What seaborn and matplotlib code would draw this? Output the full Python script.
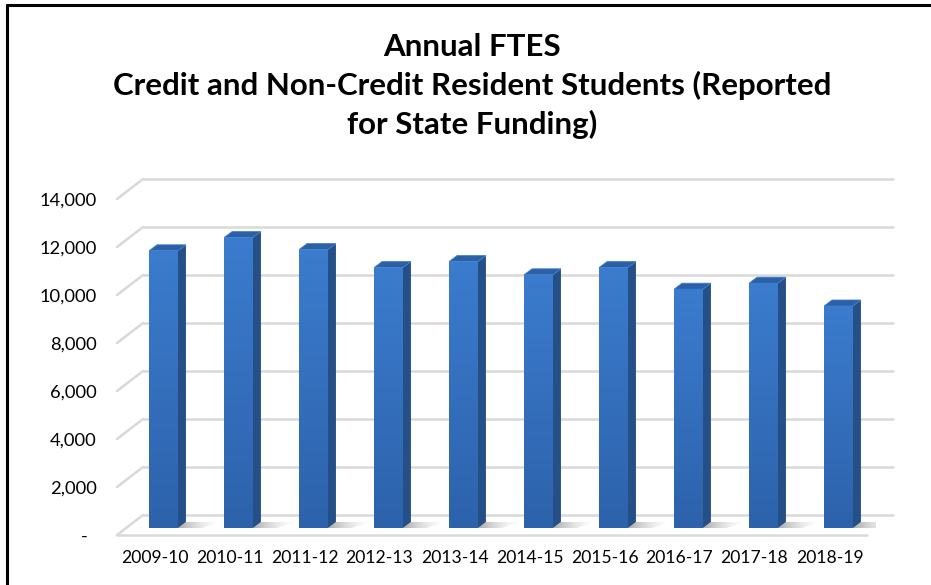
import numpy as np
import matplotlib
matplotlib.use("Agg")
import matplotlib.pyplot as plt
import matplotlib.transforms as mtransforms
from matplotlib.patches import Polygon
from matplotlib.lines import Line2D
import seaborn as sns
import pandas as pd

# Annual FTES by academic year
years = ["2009-10", "2010-11", "2011-12", "2012-13", "2013-14",
         "2014-15", "2015-16", "2016-17", "2017-18", "2018-19"]
ftes = [11550, 12100, 11600, 10850, 11100, 10550, 10850, 9950, 10200, 9250]
y_ticks = [0, 2000, 4000, 6000, 8000, 10000, 12000, 14000]
title_lines = ["Annual FTES",
               "Credit and Non-Credit Resident Students (Reported",
               "for State Funding)"]

sns.set_theme(style="white")
plt.rcParams["font.family"] = ["Lato", "DejaVu Sans"]

W, H = 931, 585
fig = plt.figure(figsize=(W / 100, H / 100), dpi=100)
fig.patch.set_facecolor("white")
ax = fig.add_axes([126 / W, 57 / H, 750 / W, 336 / H])

df = pd.DataFrame({"year": years, "ftes": ftes})
sns.barplot(data=df, x="year", y="ftes", color="#3573c3", saturation=1,
            width=0.385, ax=ax, zorder=4, linewidth=0)

ax.set_xlim(-0.5, len(years) - 0.5)
ax.set_ylim(0, 14000)
ax.set_xlabel("")
ax.set_ylabel("")
for s in ax.spines.values():
    s.set_visible(False)
ax.patch.set_alpha(0)


def px(dx, dy):
    """Convert a pixel offset into a data-space offset."""
    inv = ax.transData.inverted()
    a = inv.transform((0, 0))
    b = inv.transform((dx, dy))
    return b - a


# depth of the back wall, the bar bodies and the front floor edge (pixels)
bx, by = px(17, 13)
dx, dy = px(8, 6)
fx, fy = px(-9, -7)
x0, x1 = ax.get_xlim()

grid_c = "#d9d9d9"
for v in y_ticks:
    ax.add_line(Line2D([x0 + bx, x1 + bx], [v + by, v + by], color=grid_c,
                       lw=1.8, zorder=1, clip_on=False))
    ax.add_line(Line2D([x0 + fx, x0 + bx], [v + fy, v + by], color=grid_c,
                       lw=1.8, zorder=1, clip_on=False))
# front edge of the floor
ax.add_line(Line2D([x0 + fx, x1 + fx], [fy, fy], color=grid_c, lw=1.8,
                   zorder=1, clip_on=False))

# vertical gradient for the front faces
grad = np.linspace(0, 1, 256).reshape(-1, 1)
cmap_front = matplotlib.colors.LinearSegmentedColormap.from_list(
    "front", ["#2d62ab", "#3b7cce"])
cmap_shadow = matplotlib.colors.LinearSegmentedColormap.from_list(
    "shadow", [(0.55, 0.55, 0.55, 0.75), (0.85, 0.85, 0.85, 0.0)])

for bar in list(ax.patches):
    x = bar.get_x()
    w = bar.get_width()
    h = bar.get_height()
    img = ax.imshow(grad, extent=(x, x + w, 0, h), origin="lower",
                    cmap=cmap_front, aspect="auto", zorder=4.5,
                    interpolation="bilinear")
    img.set_clip_path(bar)
    # side face
    side = Polygon([(x + w, 0), (x + w + dx, dy), (x + w + dx, h + dy),
                    (x + w, h)], closed=True, facecolor="#254f87",
                   edgecolor="none", zorder=4, clip_on=False)
    ax.add_patch(side)
    # top face
    top = Polygon([(x, h), (x + w, h), (x + w + dx, h + dy), (x + dx, h + dy)],
                  closed=True, facecolor="#2b5fa6", edgecolor="#3f7fcf",
                  lw=0.6, zorder=4.6, clip_on=False)
    ax.add_patch(top)
    # soft shadow on the floor
    sdx, sdy = px(34, 0)
    shadow = Polygon([(x + w, 0), (x + w + dx, dy), (x + w + dx + sdx, dy),
                      (x + w + sdx * 0.7, 0)], closed=True, facecolor="none",
                     edgecolor="none", zorder=2, clip_on=False)
    ax.add_patch(shadow)
    shimg = ax.imshow(np.linspace(0, 1, 256).reshape(1, -1),
                      extent=(x + w, x + w + dx + sdx, 0, dy), origin="lower",
                      cmap=cmap_shadow, aspect="auto", zorder=2,
                      interpolation="bilinear")
    shimg.set_clip_path(shadow)

ax.set_xlim(x0, x1)
ax.set_ylim(0, 14000)

# tick labels sit on the front plane of the floor
shift = mtransforms.ScaledTranslation(-9 / 100, -7 / 100, fig.dpi_scale_trans)
ax.set_yticks(y_ticks)
ax.set_yticklabels(["-  " if v == 0 else f"{v:,}" for v in y_ticks])
ax.tick_params(axis="y", length=0, pad=14.4, labelsize=13.2, labelcolor="black")
ax.tick_params(axis="x", length=0, pad=11, labelsize=12.6, labelcolor="black")
for lab in ax.get_yticklabels() + ax.get_xticklabels():
    lab.set_transform(lab.get_transform() + shift)

fig.text(472 / W, 1 - 86 / H, "\n".join(title_lines), ha="center",
         va="center", fontsize=22.5, fontweight="bold", linespacing=1.4,
         color="black")

# chart frame
fig.add_artist(Line2D([7 / W, 1], [1 - 4.5 / H, 1 - 4.5 / H], color="black",
                      lw=2.2, transform=fig.transFigure))
fig.add_artist(Line2D([7 / W, 7 / W], [0, 1 - 4.5 / H], color="black",
                      lw=2.2, transform=fig.transFigure))

fig.savefig("out.png", dpi=100, facecolor="white")
